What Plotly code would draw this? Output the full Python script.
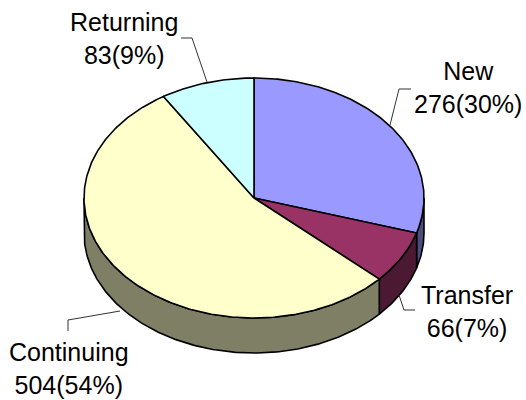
import numpy as np
import plotly.graph_objects as go

categories = ["New", "Transfer", "Continuing", "Returning"]
values = [276, 66, 504, 83]
percent_labels = ["30%", "7%", "54%", "9%"]
top_colors = ["#9999FF", "#993366", "#FFFFCC", "#CCFFFF"]
side_colors = ["#4C4C7F", "#4C1933", "#7F7F66", "#667F7F"]

W, H = 526, 400
CX, CY, RX, RY, DEPTH = 254, 198, 170, 120, 35
label_pos = {"New": (468, 87.5), "Transfer": (467, 311),
             "Continuing": (69, 368), "Returning": (124, 38)}
leaders = {"New": [(411, 89), (399, 89), (390, 125)],
           "Transfer": [(415, 310), (404, 310), (399, 295)],
           "Continuing": [(68, 331), (68, 320), (120, 311)],
           "Returning": [(181, 38), (192, 38), (207, 82)]}

total = sum(values)
edges = np.concatenate([[0], np.cumsum(values)]) / total * 2 * np.pi


def rim(a0, a1, dy=0.0):
    t = np.linspace(a0, a1, max(2, int(abs(a1 - a0) * 80)))
    return CX + RX * np.sin(t), CY - RY * np.cos(t) + dy


fig = go.Figure()
LINE = dict(color="black", width=1.6)

# visible side walls (front half of the disc)
for i in range(len(values)):
    a0, a1 = max(edges[i], np.pi / 2), min(edges[i + 1], 3 * np.pi / 2)
    if a1 <= a0:
        continue
    x0, y0 = rim(a0, a1)
    x1, y1 = rim(a0, a1, DEPTH)
    fig.add_trace(go.Scatter(
        x=np.r_[x0, x1[::-1], x0[0]], y=np.r_[y0, y1[::-1], y0[0]],
        mode="lines", fill="toself", fillcolor=side_colors[i], line=LINE,
        hoverinfo="skip", showlegend=False))

# top wedges
for i, name in enumerate(categories):
    x, y = rim(edges[i], edges[i + 1])
    fig.add_trace(go.Scatter(
        x=np.r_[CX, x, CX], y=np.r_[CY, y, CY],
        mode="lines", fill="toself", fillcolor=top_colors[i], line=LINE,
        name=name, showlegend=False,
        hovertemplate=f"{name}: {values[i]} ({percent_labels[i]})<extra></extra>"))

# leader lines and labels
for i, name in enumerate(categories):
    pts = leaders[name]
    fig.add_trace(go.Scatter(
        x=[p[0] for p in pts], y=[p[1] for p in pts], mode="lines",
        line=dict(color="#333333", width=1), hoverinfo="skip", showlegend=False))
    fig.add_annotation(
        x=label_pos[name][0], y=label_pos[name][1], xref="x", yref="y",
        text=f"{name}<br>{values[i]}({percent_labels[i]})", showarrow=False,
        xanchor="center", yanchor="middle", align="center",
        font=dict(family="Liberation Sans, Arial, sans-serif", size=25, color="black"))

fig.update_layout(
    width=W, height=H, margin=dict(l=0, r=0, t=0, b=0),
    paper_bgcolor="white", plot_bgcolor="white", showlegend=False,
    xaxis=dict(range=[0, W], visible=False, fixedrange=True),
    yaxis=dict(range=[H, 0], visible=False, fixedrange=True))
fig.write_html("out.html", config={"displayModeBar": False},
               post_script="document.body.style.margin='0';document.documentElement.style.overflow='hidden';")
